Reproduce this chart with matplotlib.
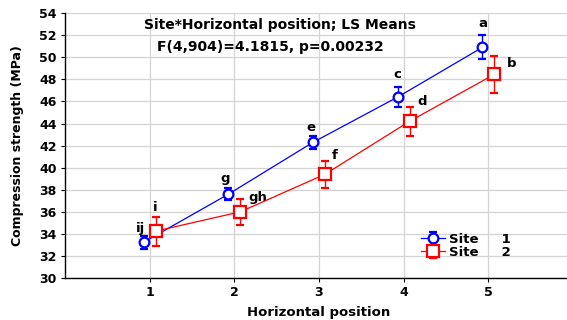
import matplotlib.pyplot as plt
import numpy as np

plt.rcParams['font.family'] = ['DejaVu Sans']
plt.rcParams['font.weight'] = 'bold'

positions = [1, 2, 3, 4, 5]
site1_mean = [33.25, 37.6, 42.3, 46.4, 50.9]
site1_err = [0.6, 0.55, 0.6, 0.9, 1.1]
site2_mean = [34.25, 36.0, 39.4, 44.2, 48.45]
site2_err = [1.3, 1.2, 1.2, 1.3, 1.7]
site1_letters = ['ij', 'g', 'e', 'c', 'a']
site2_letters = ['i', 'gh', 'f', 'd', 'b']

# where each letter sits relative to its mean (x shift, y shift)
site1_lab_dx = [-0.04, -0.04, -0.02, 0.0, 0.0]
site1_lab_dy = [1.25, 1.45, 1.3, 2.0, 2.2]
site2_lab_dx = [0.0, 0.21, 0.12, 0.15, 0.2]
site2_lab_dy = [2.1, 1.3, 1.7, 1.8, 1.0]

offset = 0.07
x1 = np.array(positions) - offset
x2 = np.array(positions) + offset

fig = plt.figure(figsize=(5.67, 3.2), dpi=100)
ax = fig.add_axes([0.1146, 0.131, 0.896, 0.828])

e1 = ax.errorbar(x1, site1_mean, yerr=site1_err, color='#0000ff', lw=0.9,
                 marker='o', ms=7, mfc='white', mec='#0000ff', mew=1.6,
                 elinewidth=1.0, capsize=2.9, capthick=1.0, label='Site     1', zorder=3)
e2 = ax.errorbar(x2, site2_mean, yerr=site2_err, color='#ff0000', lw=0.9,
                 marker='s', ms=8, mfc='white', mec='#ff0000', mew=1.6,
                 elinewidth=1.0, capsize=2.9, capthick=1.0, label='Site     2', zorder=3)

for x, y, dx, dy, t in zip(x1, site1_mean, site1_lab_dx, site1_lab_dy, site1_letters):
    ax.text(x + dx, y + dy, t, ha='center', va='center', fontsize=9.5, fontweight='bold')
for x, y, dx, dy, t in zip(x2, site2_mean, site2_lab_dx, site2_lab_dy, site2_letters):
    ax.text(x + dx, y + dy, t, ha='center', va='center', fontsize=9.5, fontweight='bold')

ax.text(0.424, 0.955, 'Site*Horizontal position; LS Means', transform=ax.transAxes,
        ha='center', va='center', fontsize=10, fontweight='bold')
ax.text(0.405, 0.872, 'F(4,904)=4.1815, p=0.00232', transform=ax.transAxes,
        ha='center', va='center', fontsize=10, fontweight='bold')

ax.set_xlim(0, 6)
ax.set_ylim(30, 54)
ax.set_xticks(positions)
ax.set_yticks(np.arange(30, 55, 2))
ax.tick_params(labelsize=9, length=3, width=0.8, direction='out', pad=3)
for lab in ax.get_xticklabels() + ax.get_yticklabels():
    lab.set_fontweight('bold')
ax.grid(True, color='#d4d4d4', lw=0.9)
ax.set_axisbelow(True)
for s in ['top', 'right']:
    ax.spines[s].set_visible(False)
ax.spines['left'].set_linewidth(1.0)
ax.spines['bottom'].set_linewidth(1.0)

ax.set_xlabel('Horizontal position', fontsize=9.5, fontweight='bold', labelpad=5)
ax.set_ylabel('Compression strength (MPa)', fontsize=9, fontweight='bold', labelpad=11)

ax.legend(handles=[e1, e2], loc='upper left', bbox_to_anchor=(0.685, 0.2),
          frameon=False, fontsize=9.5, handlelength=1.8, handletextpad=0.3,
          labelspacing=0.0, borderpad=0.1)

fig.savefig('out.png', dpi=100)
